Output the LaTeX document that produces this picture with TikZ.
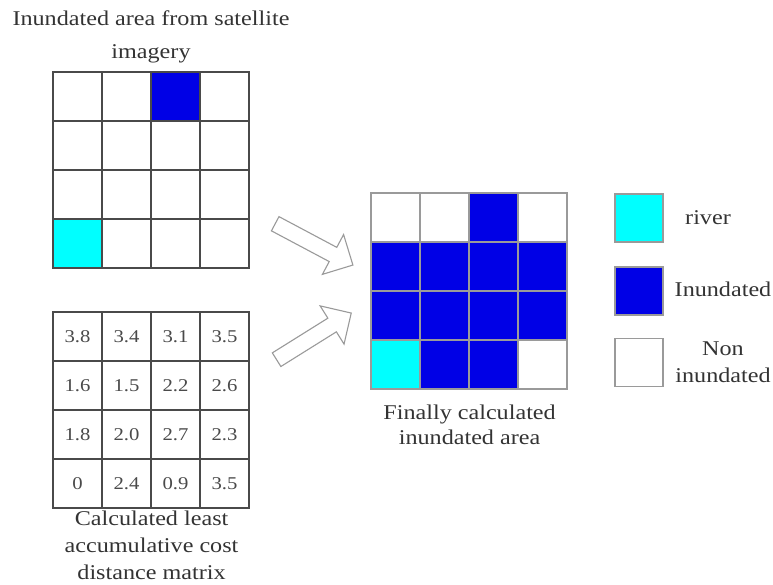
\documentclass[tikz,border=0pt]{standalone}
\usepackage{fontspec}
\setmainfont[FakeStretch=1.15]{Liberation Serif}
\usetikzlibrary{shapes.arrows,positioning}
\definecolor{fmBlue}{HTML}{0000E6}
\definecolor{fmCyan}{HTML}{00FFFF}
\definecolor{fmLine}{HTML}{4A4A4A}
\definecolor{fmGray}{HTML}{9A9A9A}
\tikzset{
  fmCell/.style={draw=fmLine,line width=1.1pt,minimum size=49pt,inner sep=0pt,
    font=\fontsize{18}{20}\selectfont,text=fmLine},
  fmKey/.style={draw=fmGray,line width=1.3pt,minimum size=48pt,inner sep=0pt},
  fmText/.style={font=\fontsize{21}{27}\selectfont,text=black!80,align=center,inner sep=0pt},
  fmArrow/.style={single arrow,draw=fmGray,fill=white,line width=1.1pt,
    minimum height=88pt,minimum width=44pt,single arrow head extend=14.5pt,
    single arrow head indent=0pt,inner xsep=0pt,inner ysep=7.5pt}
}
\begin{document}
\begin{tikzpicture}[x=1pt,y=-1pt]
\path[use as bounding box] (0,0) rectangle (773,585);
% satellite grid
\foreach \r/\fills in {0/{white,white,fmBlue,white},1/{white,white,white,white},
    2/{white,white,white,white},3/{fmCyan,white,white,white}}
  \foreach \f [count=\c from 0] in \fills
    \node[fmCell,fill=\f] (sat-\r-\c) at (77.5+49*\c,96.5+49*\r) {};
\node[fmText] (satTitle) at (151,37) {Inundated area from satellite\\[6pt]imagery};
% cost distance grid
\foreach \r/\vals in {0/{3.8,3.4,3.1,3.5},1/{1.6,1.5,2.2,2.6},
    2/{1.8,2.0,2.7,2.3},3/{0,2.4,0.9,3.5}}
  \foreach \v [count=\c from 0] in \vals
    \node[fmCell] (cost-\r-\c) at (77.5+49*\c,336.5+49*\r) {\v};
\node[fmText,below=2pt of cost-3-1.south east] (costTitle)
  {Calculated least\\accumulative cost\\distance matrix};
% result grid
\foreach \r/\fills in {0/{white,white,fmBlue,white},1/{fmBlue,fmBlue,fmBlue,fmBlue},
    2/{fmBlue,fmBlue,fmBlue,fmBlue},3/{fmCyan,fmBlue,fmBlue,white}}
  \foreach \f [count=\c from 0] in \fills
    \node[fmCell,draw=fmGray,fill=\f] (res-\r-\c) at (395.5+49*\c,217.5+49*\r) {};
\node[fmText,below=15pt of res-3-1.south east,font=\fontsize{21}{25}\selectfont] (resTitle)
  {Finally calculated\\inundated area};
% block arrows
\node[fmArrow,rotate=-28] (arrTop) at (310.5,242.5) {};
\node[fmArrow,rotate=32] (arrBot) at (310.5,338.5) {};
% legend
\node[fmKey,fill=fmCyan] (keyRiver) at (639,218) {};
\node[fmKey,fill=fmBlue] (keyWet) at (639,291) {};
\node[fmKey,fill=white] (keyDry) at (639,362.5) {};
\node[fmText,anchor=center] (labRiver) at (708,218) {river};
\node[fmText] (labWet) at (723,289) {Inundated};
\node[fmText] (labDry) at (723,362) {Non\\inundated};
\end{tikzpicture}
\end{document}
